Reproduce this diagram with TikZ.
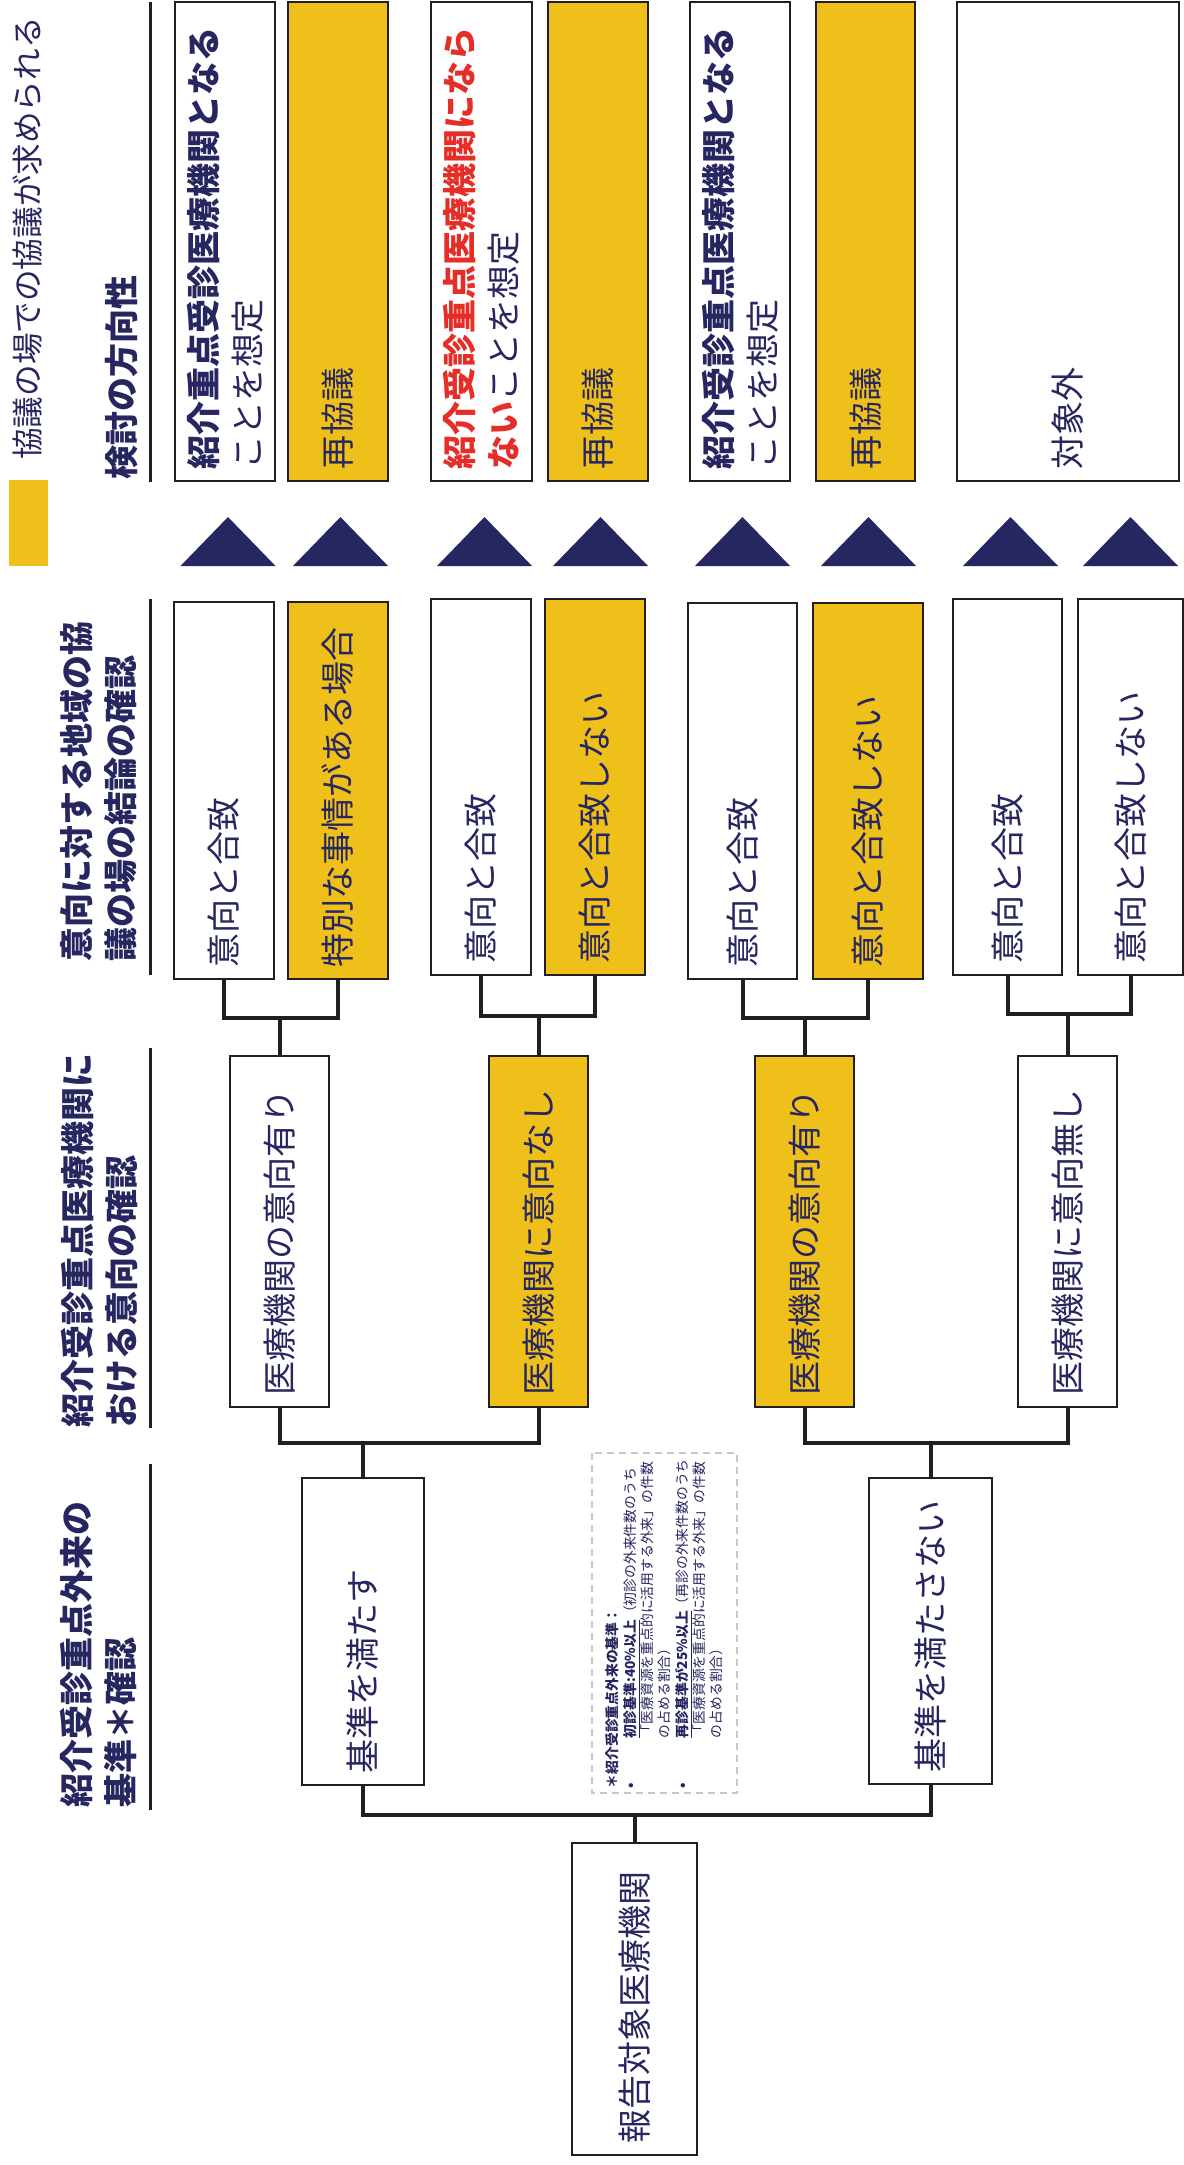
\documentclass[tikz,border=0pt]{standalone}
\usepackage{fontspec}
\setmainfont{Noto Sans CJK JP}
\definecolor{navy}{RGB}{38,38,96}
\definecolor{ylw}{RGB}{240,192,26}
\definecolor{redt}{RGB}{230,45,40}
\definecolor{edge}{RGB}{35,31,32}
\definecolor{dashgray}{RGB}{200,200,200}
\begin{document}
\begin{tikzpicture}[x=0.5pt,y=-0.5pt,
  every node/.style={text=navy,font=\fontsize{17pt}{22pt}\selectfont},
  box/.style={draw=edge,line width=1pt,rotate=90,inner xsep=6pt,inner ysep=0pt,align=left},
  wbox/.style={box,fill=white},
  ybox/.style={box,fill=ylw},
  conn/.style={draw=edge,line width=2pt},
  sep/.style={draw=edge,line width=1.5pt},
  hdr/.style={rotate=90,anchor=west,inner sep=0pt,align=left,font=\bfseries\fontsize{17pt}{22pt}\selectfont},
]
\fill[white] (0,0) rectangle (1184,2165);
\useasboundingbox (0,0) rectangle (1184,2165);

% legend
\node[fill=ylw,minimum width=19.5pt,minimum height=43pt,inner sep=0pt] (legbox) at (28.5,523) {};
\node[rotate=90,anchor=west,inner sep=0pt,font=\fontsize{15.8pt}{19pt}\selectfont] (legtxt) at (27.5,460) {協議の場での協議が求められる};

% headers
\node[hdr] (h1) at (122,480) {検討の方向性};
\node[hdr] (h2) at (99,962) {意向に対する地域の協\\議の場の結論の確認};
\node[hdr] (h3) at (99,1428) {紹介受診重点医療機関に\\おける意向の確認};
\node[hdr] (h4) at (98.5,1808) {紹介受診重点外来の\\基準＊確認};
\draw[sep] (150,2) -- (150,482);
\draw[sep] (150,599) -- (150,975);
\draw[sep] (150,1048) -- (150,1428);
\draw[sep] (150,1464) -- (150,1810);

% row 1: results
\node[wbox,minimum width=239.5pt,minimum height=50pt,text width=227.5pt] (r1) at (225,241.5) {{\bfseries 紹介重点受診医療機関となる}\\ことを想定};
\node[ybox,minimum width=239.5pt,minimum height=50pt,text width=227.5pt] (r2) at (338,241.5) {再協議};
\node[wbox,minimum width=239.5pt,minimum height=50.5pt,text width=227.5pt] (r3) at (481.5,241.5) {{\bfseries\color{redt}紹介受診重点医療機関になら}\\{\bfseries\color{redt}ない}ことを想定};
\node[ybox,minimum width=239.5pt,minimum height=50pt,text width=227.5pt] (r4) at (598,241.5) {再協議};
\node[wbox,minimum width=239.5pt,minimum height=50pt,text width=227.5pt] (r5) at (740,241.5) {{\bfseries 紹介受診重点医療機関となる}\\ことを想定};
\node[ybox,minimum width=239.5pt,minimum height=49.5pt,text width=227.5pt] (r6) at (865.5,241.5) {再協議};
\node[wbox,minimum width=239.5pt,minimum height=111pt,text width=227.5pt] (r7) at (1068,241.5) {対象外};

% row 2: conclusions
\node[wbox,minimum width=188.5pt,minimum height=50pt,text width=176.5pt] (a1) at (224,790.5) {意向と合致};
\node[ybox,minimum width=188.5pt,minimum height=50pt,text width=176.5pt] (a2) at (338,790.5) {特別な事情がある場合};
\node[wbox,minimum width=188pt,minimum height=50pt,text width=176pt] (b1) at (481,787) {意向と合致};
\node[ybox,minimum width=188pt,minimum height=50pt,text width=176pt] (b2) at (595,787) {意向と合致しない};
\node[wbox,minimum width=188pt,minimum height=54.5pt,text width=176pt] (c1) at (742.5,791) {意向と合致};
\node[ybox,minimum width=188pt,minimum height=55pt,text width=176pt] (c2) at (868,791) {意向と合致しない};
\node[wbox,minimum width=188pt,minimum height=54.5pt,text width=176pt] (d1) at (1007.5,787) {意向と合致};
\node[wbox,minimum width=188pt,minimum height=52.5pt,text width=176pt] (d2) at (1130.5,787) {意向と合致しない};

% row 3: intentions
\node[wbox,minimum width=175.5pt,minimum height=49.5pt,text width=163.5pt] (p1) at (279.5,1231.5) {医療機関の意向有り};
\node[ybox,minimum width=175.5pt,minimum height=49.5pt,text width=163.5pt] (p2) at (538.5,1231.5) {医療機関に意向なし};
\node[ybox,minimum width=175.5pt,minimum height=49.5pt,text width=163.5pt] (q1) at (804.5,1231.5) {医療機関の意向有り};
\node[wbox,minimum width=175.5pt,minimum height=49.5pt,text width=163.5pt] (q2) at (1067.5,1231.5) {医療機関に意向無し};

% row 4: criteria
\node[wbox,minimum width=153.5pt,minimum height=61pt,text width=141.5pt] (k1) at (363,1631.5) {基準を満たす};
\node[wbox,minimum width=153pt,minimum height=61.5pt,text width=141pt] (k2) at (930.5,1631) {基準を満たさない};

% row 5: root
\node[wbox,minimum width=156pt,minimum height=62.5pt,text width=144pt] (s) at (634.5,1999) {報告対象医療機関};

% note
\node[rotate=90,draw=dashgray,dash pattern=on 3.5pt off 2.5pt,line width=0.8pt,
      minimum width=170pt,minimum height=72.5pt,inner xsep=2.5pt,inner ysep=0pt,
      text width=165pt,align=left,font=\fontsize{6.9pt}{8.65pt}\selectfont] (note) at (664.5,1623)
{\textbf{＊紹介受診重点外来の基準：}\\
\makebox[25pt][l]{\textbf{•}}\textbf{\underline{初診基準:40\%以上}}（初診の外来件数のうち\\
\hspace*{25pt}「医療資源を重点的に活用する外来」の件数\\
\hspace*{25pt}の占める割合）\\
\makebox[25pt][l]{\textbf{•}}\textbf{\underline{再診基準が25\%以上}}（再診の外来件数のうち\\
\hspace*{25pt}「医療資源を重点的に活用する外来」の件数\\
\hspace*{25pt}の占める割合）};

% connectors
\draw[conn] (a1.west) -- ++(0,38) coordinate (ja) -| (a2.west);
\draw[conn] (p1.east) -- (p1.east |- ja);
\draw[conn] (b1.west) -- ++(0,40) coordinate (jb) -| (b2.west);
\draw[conn] (p2.east) -- (p2.east |- jb);
\draw[conn] (c1.west) -- ++(0,38) coordinate (jc) -| (c2.west);
\draw[conn] (q1.east) -- (q1.east |- jc);
\draw[conn] (d1.west) -- ++(0,38) coordinate (jd) -| (d2.west);
\draw[conn] (q2.east) -- (q2.east |- jd);
\draw[conn] (p1.west) -- ++(0,35) coordinate (jp) -| (p2.west);
\draw[conn] (k1.east) -- (k1.east |- jp);
\draw[conn] (q1.west) -- ++(0,35) coordinate (jq) -| (q2.west);
\draw[conn] (k2.east) -- (k2.east |- jq);
\draw[conn] (k1.west) -- ++(0,29) coordinate (jk) -| (k2.west);
\draw[conn] (s.east) -- (s.east |- jk);

% triangles
\coordinate (tb) at (0,566);
\foreach \n/\dx in {a1/4,a2/2.5,b1/3.5,b2/5.5,c1/0,c2/0.5,d1/3,d2/0}{
  \fill[navy] (\n.east |- tb) ++(\dx-47.5,0) -- ++(95,0) -- ++(-47.5,-49) -- cycle;
}
\end{tikzpicture}
\end{document}
